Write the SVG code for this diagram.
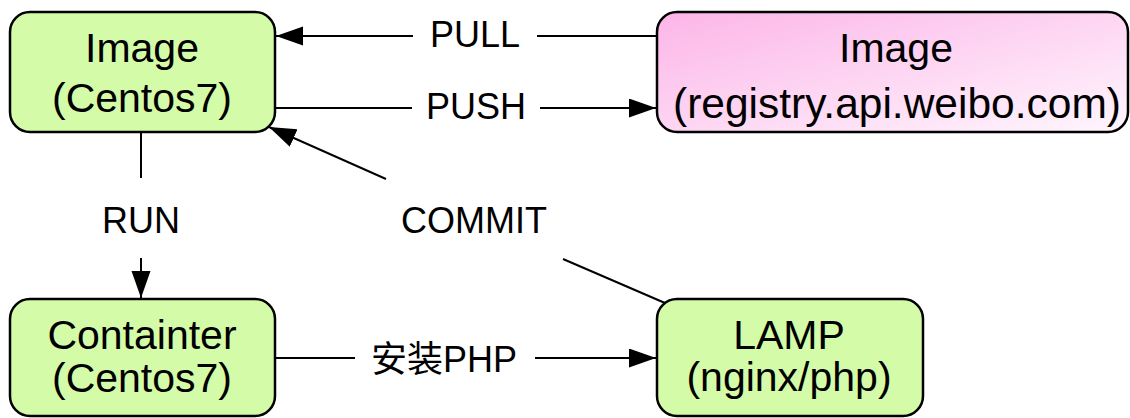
<svg xmlns="http://www.w3.org/2000/svg" width="1130" height="418" viewBox="0 0 1130 418">
<style>
.node{fill:#D4FBA8;stroke:#000;stroke-width:2.5}
.pink{fill:url(#pg);stroke:#000;stroke-width:2.5}
.nt{font-family:"Liberation Sans",Arial,Helvetica,sans-serif;font-size:41px;fill:#000;text-anchor:middle}
.lt{font-family:"Liberation Sans",Arial,Helvetica,"Noto Sans CJK SC",sans-serif;font-size:36px;fill:#000;text-anchor:middle}
.cn{font-family:"Noto Sans CJK SC","Liberation Sans",sans-serif}
.edge{stroke:#000;stroke-width:2;fill:none}
</style>
<defs>
<linearGradient id="pg" x1="0" y1="0" x2="1" y2="1">
<stop offset="0" stop-color="#FCB5E8"/>
<stop offset="1" stop-color="#FFF6FD"/>
</linearGradient>
<marker id="ah" markerUnits="userSpaceOnUse" markerWidth="28" markerHeight="20" refX="27" refY="9.5" orient="auto">
<path d="M0,0 L27,9.5 L0,19 Z" fill="#000"/>
</marker>
</defs>
<rect width="1130" height="418" fill="#fff"/>
<g id="connectors">
<line class="edge" x1="413" y1="36" x2="276" y2="36" marker-end="url(#ah)"/>
<line class="edge" x1="537" y1="36" x2="657" y2="36"/>
<text class="lt" x="475" y="47">PULL</text>
<line class="edge" x1="275" y1="108" x2="412" y2="108"/>
<line class="edge" x1="540" y1="108" x2="656" y2="108" marker-end="url(#ah)"/>
<text class="lt" x="476" y="119">PUSH</text>
<line class="edge" x1="141" y1="133" x2="141" y2="178"/>
<line class="edge" x1="141" y1="258" x2="141" y2="298" marker-end="url(#ah)"/>
<text class="lt" x="141" y="233">RUN</text>
<line class="edge" x1="386" y1="179" x2="269" y2="127" marker-end="url(#ah)"/>
<line class="edge" x1="563" y1="259" x2="665" y2="303"/>
<text class="lt" x="474" y="233">COMMIT</text>
<line class="edge" x1="275" y1="358" x2="355" y2="358"/>
<line class="edge" x1="535" y1="358" x2="656" y2="358" marker-end="url(#ah)"/>
<text class="lt" x="444" y="372"><tspan class="cn">安装</tspan>PHP</text>
</g>
<g id="image-centos">
<rect class="node" x="10" y="12" width="265" height="120" rx="20"/>
<text class="nt" x="142" y="62">Image</text>
<text class="nt" x="142" y="112">(Centos7)</text>
</g>
<g id="image-registry">
<rect class="pink" x="657" y="12" width="471" height="120" rx="20"/>
<text class="nt" x="896" y="62">Image</text>
<text class="nt" x="897" y="118" style="font-size:42.5px">(registry.api.weibo.com)</text>
</g>
<g id="container">
<rect class="node" x="10" y="299" width="265" height="117" rx="20"/>
<text class="nt" x="142" y="349">Containter</text>
<text class="nt" x="142" y="392">(Centos7)</text>
</g>
<g id="lamp">
<rect class="node" x="657" y="299" width="266" height="117" rx="20"/>
<text class="nt" x="789" y="349">LAMP</text>
<text class="nt" x="789" y="391">(nginx/php)</text>
</g>
</svg>
